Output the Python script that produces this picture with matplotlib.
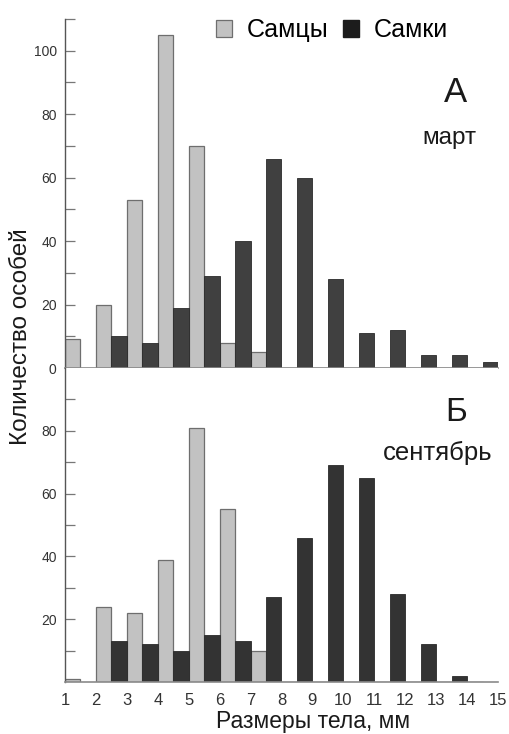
import matplotlib
matplotlib.use("Agg")
import matplotlib.pyplot as plt
import numpy as np
from matplotlib.patches import Patch

plt.rcParams['font.family'] = ['Liberation Sans', 'DejaVu Sans']

sizes = list(range(1, 15))
males_march = [9, 20, 53, 105, 70, 8, 5, 0, 0, 0, 0, 0, 0, 0]
females_march = [0, 10, 8, 19, 29, 40, 66, 60, 28, 11, 12, 4, 4, 2]
males_sept = [1, 24, 22, 39, 81, 55, 10, 0, 0, 0, 0, 0, 0, 0]
females_sept = [0, 13, 12, 10, 15, 13, 27, 46, 69, 65, 28, 12, 2, 0]
xtick_labels = [str(i) for i in range(1, 16)]
legend_labels = ["Самцы", "Самки"]

W, H = 510, 734
fig = plt.figure(figsize=(W / 100, H / 100), dpi=100)

def fx(px):
    return px / W

def fy(py):
    return 1 - py / H

left, right = 65, 498
ax1 = fig.add_axes([fx(left), fy(368), fx(right - left), (368 - 19) / H])
ax2 = fig.add_axes([fx(left), fy(682), fx(right - left), (682 - 368) / H])

light = "#c2c2c2"
light_edge = "#6e6e6e"
dark1 = "#404040"
dark2 = "#333333"

x = np.array(sizes, dtype=float)
w = 0.5

def draw(ax, males, females, dark, ymax, major, minor):
    ax.bar(x, males, width=w, align='edge', color=light, edgecolor=light_edge, linewidth=0.9, zorder=2)
    ax.bar(x + w, females, width=w, align='edge', color=dark, edgecolor="#2a2a2a", linewidth=0.6, zorder=2)
    ax.set_xlim(1, 15)
    ax.set_ylim(0, ymax)
    for s in ['top', 'right']:
        ax.spines[s].set_visible(False)
    ax.spines['left'].set_color("#555555")
    ax.spines['left'].set_linewidth(1.0)
    ax.spines['bottom'].set_color("#8a8a8a")
    ax.spines['bottom'].set_linewidth(1.2)
    ax.set_yticks(major)
    ax.set_yticks(minor, minor=True)
    ax.tick_params(axis='y', which='both', direction='in', length=7, width=0.9,
                   color="#777777", pad=6, labelsize=10, labelcolor="#333333")
    ax.tick_params(axis='x', which='both', length=0)

draw(ax1, males_march, females_march, dark1, 110, [0, 20, 40, 60, 80, 100], [10, 30, 50, 70, 90, 110])
ax1.set_xticks([])

draw(ax2, males_sept, females_sept, dark2, 100, [20, 40, 60, 80], [10, 30, 50, 70, 90])
ax2.set_xticks(range(1, 16))
ax2.set_xticklabels(xtick_labels)
ax2.tick_params(axis='x', labelsize=12, pad=8, labelcolor="#333333")

# legend
handles = [Patch(facecolor=light, edgecolor=light_edge, linewidth=0.9),
           Patch(facecolor="#1c1c1c", edgecolor="#1c1c1c")]
fig.legend(handles, legend_labels, loc='center', bbox_to_anchor=(fx(332), fy(30)),
           ncol=2, frameon=False, fontsize=18, handlelength=0.65, handleheight=0.65,
           handletextpad=0.6, columnspacing=0.55, borderpad=0)

fig.text(fx(456), fy(102), "А", fontsize=25, ha='center', va='baseline', color="#1a1a1a")
fig.text(fx(449), fy(144), "март", fontsize=17.5, ha='center', va='baseline', color="#1a1a1a")
fig.text(fx(456), fy(421), "Б", fontsize=24, ha='center', va='baseline', color="#1a1a1a")
fig.text(fx(438), fy(460), "сентябрь", fontsize=18.5, ha='center', va='baseline', color="#1a1a1a")

fig.text(fx(21), fy(337), "Количество особей", rotation=90, fontsize=17.5,
         ha='center', va='center', color="#1a1a1a")
fig.text(fx(313), fy(728), "Размеры тела, мм", fontsize=16.5,
         ha='center', va='baseline', color="#1a1a1a")

fig.savefig("out.png", dpi=100)
